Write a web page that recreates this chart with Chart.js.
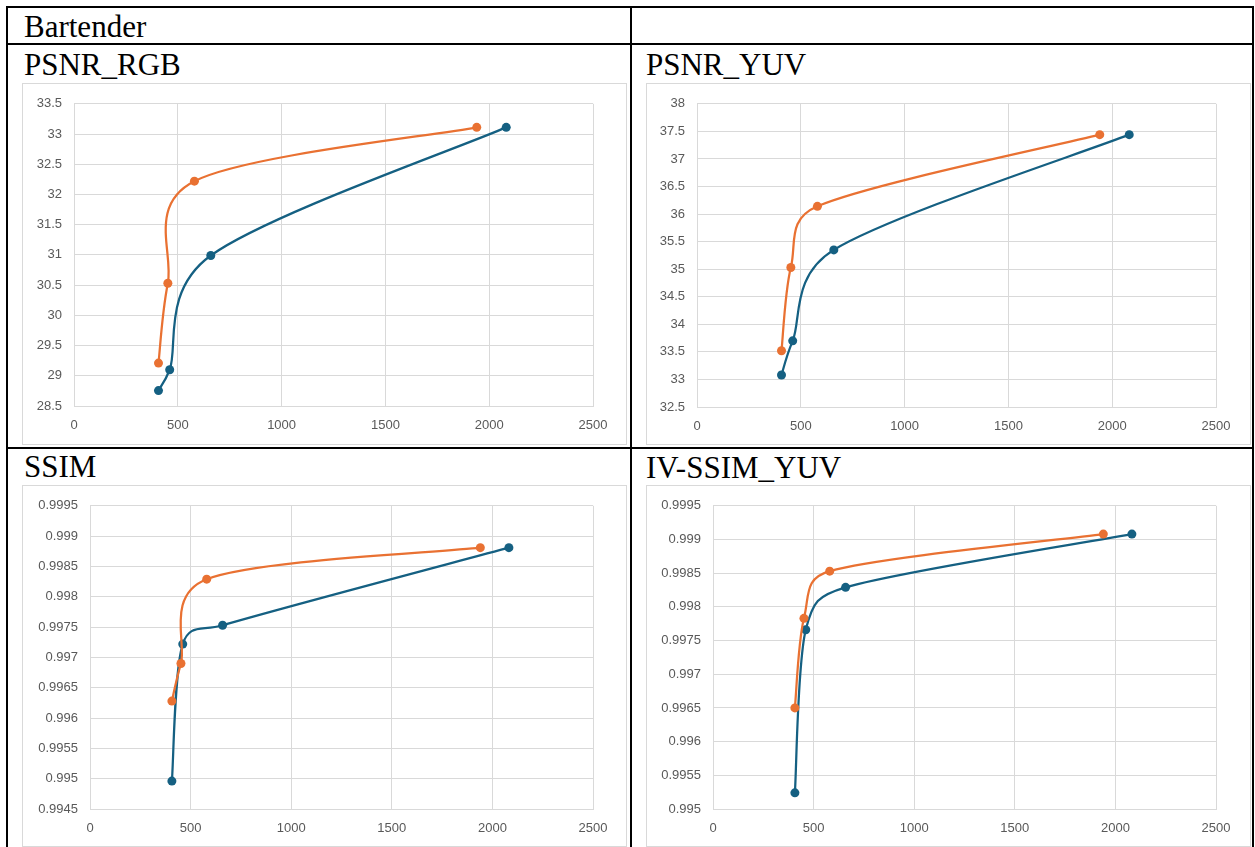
<!DOCTYPE html>
<html>
<head>
<meta charset="utf-8">
<script src="https://cdn.jsdelivr.net/npm/chart.js@4"></script>
<style>
  body { margin: 0; background: #fff; width: 1255px; height: 847px; overflow: hidden; position: relative; }
  .ln { position: absolute; background: #000; }
  .lbl { position: absolute; font-family: "Liberation Serif", "Times New Roman", serif; font-size: 31px; line-height: 31px; color: #000; white-space: nowrap; }
  .box { position: absolute; width: 603px; height: 360px; border: 1px solid #d9d9d9; background: #fff; }
  .box canvas { display: block; }
</style>
</head>
<body>

<div class="ln" style="left:6px;top:6px;width:1248px;height:2px"></div>
<div class="ln" style="left:6px;top:43px;width:1248px;height:2px"></div>
<div class="ln" style="left:6px;top:447px;width:1248px;height:2px"></div>
<div class="ln" style="left:6px;top:6px;width:2px;height:850px"></div>
<div class="ln" style="left:630px;top:6px;width:2px;height:850px"></div>
<div class="ln" style="left:1252px;top:6px;width:2px;height:850px"></div>

<div class="lbl" style="left:24px;top:11px">Bartender</div>
<div class="lbl" style="left:24px;top:49px">PSNR_RGB</div>
<div class="lbl" style="left:646px;top:49px">PSNR_YUV</div>
<div class="lbl" style="left:24px;top:451px">SSIM</div>
<div class="lbl" style="left:646px;top:452px">IV-SSIM_YUV</div>

<div class="box" style="left:22px;top:83px"><canvas id="psnrRgb" width="603" height="360"></canvas></div>
<div class="box" style="left:646px;top:83px"><canvas id="psnrYuv" width="603" height="360"></canvas></div>
<div class="box" style="left:22px;top:485px"><canvas id="ssim" width="603" height="360"></canvas></div>
<div class="box" style="left:646px;top:485px"><canvas id="ivSsim" width="603" height="360"></canvas></div>

<script>
// bitrate (kbps) of the two encoders
const bitrate_blue = [407, 461, 659, 2082];
const bitrate_orange = [407, 452, 580, 1940];

const psnr_rgb_blue = [28.755, 29.10, 30.99, 33.11];
const psnr_rgb_orange = [29.21, 30.53, 32.22, 33.11];

const psnr_yuv_blue = [33.08, 33.70, 35.35, 37.44];
const psnr_yuv_orange = [33.52, 35.03, 36.14, 37.44];

const ssim_blue = [0.99496, 0.99722, 0.99753, 0.99881];
const ssim_orange = [0.99628, 0.99690, 0.99829, 0.99881];

const ivssim_blue = [0.99524, 0.99766, 0.99829, 0.99908];
const ivssim_orange = [0.99650, 0.99783, 0.99853, 0.99908];

const BLUE = '#156082';
const ORANGE = '#e97132';
const GRID = '#d9d9d9';
const TICK = '#595959';

// spreadsheet-style smoothing: tangent (next - prev) / 6,
// each handle kept under half of its own segment
const smoothLines = {
  id: 'smoothLines',
  beforeDatasetDraw(chart, args) {
    const pts = args.meta.data;
    for (let i = 0; i < pts.length; i++) {
      const p = pts[i];
      const prev = pts[i - 1] || p;
      const next = pts[i + 1] || p;
      const tx = next.x - prev.x, ty = next.y - prev.y;
      const tl = Math.hypot(tx, ty) || 1;
      const dPrev = Math.hypot(p.x - prev.x, p.y - prev.y);
      const dNext = Math.hypot(next.x - p.x, next.y - p.y);
      const fIn = Math.min(1 / 6, dPrev / (2 * tl));
      const fOut = Math.min(1 / 6, dNext / (2 * tl));
      p.cp1x = p.x - tx * fIn; p.cp1y = p.y - ty * fIn;
      p.cp2x = p.x + tx * fOut; p.cp2y = p.y + ty * fOut;
    }
    args.meta.dataset._pointsUpdated = true;
  }
};

function points(xs, ys) {
  return xs.map((x, i) => ({ x: x, y: ys[i] }));
}

function series(color, xs, ys, order) {
  return {
    data: points(xs, ys),
    showLine: true,
    borderColor: color,
    backgroundColor: color,
    borderWidth: 2.25,
    pointRadius: 4.5,
    pointBorderWidth: 0,
    tension: 0.5,
    order: order
  };
}

function make_chart(id, blue, orange, yMin, yMax, yStep, yWidth, padTop, padRight, xHeight) {
  const tickFont = { family: '"Liberation Sans", Arial, sans-serif', size: 13 };
  return new Chart(document.getElementById(id), {
    type: 'scatter',
    data: {
      datasets: [
        series(BLUE, bitrate_blue, blue, 1),
        series(ORANGE, bitrate_orange, orange, 0)
      ]
    },
    plugins: [smoothLines],
    options: {
      responsive: false,
      animation: false,
      events: [],
      layout: { padding: { top: padTop, right: padRight, left: 0, bottom: 0 } },
      plugins: { legend: { display: false }, tooltip: { enabled: false } },
      scales: {
        x: {
          min: 0, max: 2500,
          grid: { color: GRID, drawTicks: false },
          border: { color: GRID },
          ticks: { stepSize: 500, padding: 12, color: TICK, font: tickFont, maxRotation: 0,
                   callback: (v) => String(v) },
          afterFit: (s) => { s.height = xHeight; }
        },
        y: {
          min: yMin, max: yMax,
          grid: { color: GRID, drawTicks: false },
          border: { color: GRID },
          ticks: { stepSize: yStep, padding: 12, color: TICK, font: tickFont,
                   callback: (v) => String(parseFloat(v.toFixed(4))) },
          afterFit: (s) => { s.width = yWidth; }
        }
      }
    }
  });
}

make_chart('psnrRgb', psnr_rgb_blue, psnr_rgb_orange, 28.5, 33.5, 0.5, 51, 16, 33, 38);
make_chart('psnrYuv', psnr_yuv_blue, psnr_yuv_orange, 32.5, 38, 0.5, 50, 16, 34, 37);
make_chart('ssim', ssim_blue, ssim_orange, 0.9945, 0.9995, 0.0005, 67, 17, 33, 37);
make_chart('ivSsim', ivssim_blue, ivssim_orange, 0.995, 0.9995, 0.0005, 66, 17, 34, 37);
</script>
</body>
</html>
